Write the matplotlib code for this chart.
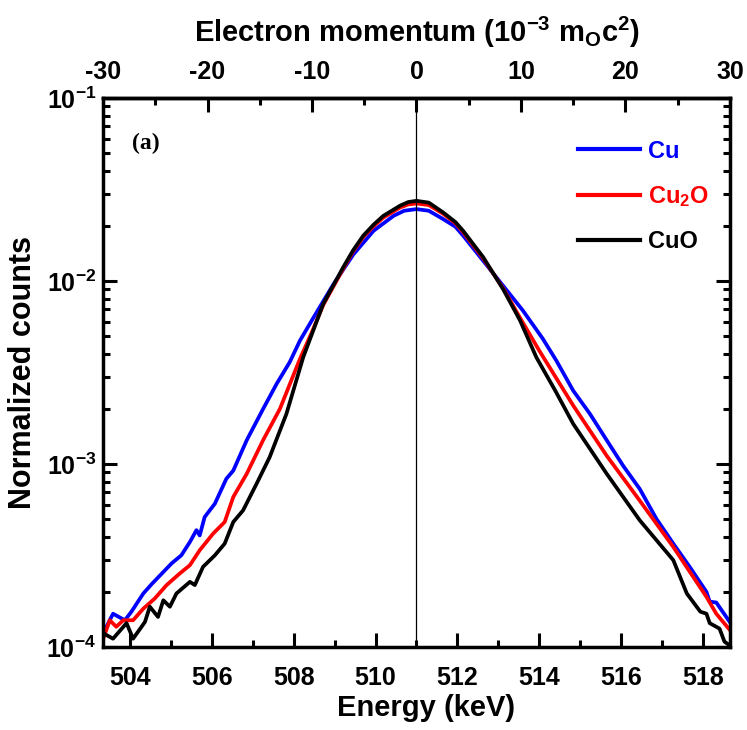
import matplotlib
matplotlib.use('Agg')
import matplotlib.pyplot as plt
from matplotlib.ticker import (MultipleLocator, FixedLocator, LogLocator, NullFormatter,
                               LogFormatterMathtext)

# Doppler broadening spectra (normalized counts vs. gamma energy)
energy_cu = [503.34, 503.58, 503.87, 504.03, 504.32, 504.52, 504.81, 505.01, 505.25,
             505.46, 505.62, 505.70, 505.82, 506.07, 506.35, 506.52, 506.85, 507.25,
             507.58, 507.90, 508.15, 508.48, 508.97, 509.46, 509.95, 510.44, 510.70,
             511.00, 511.30, 511.65, 511.95, 512.14, 512.63, 513.12, 513.60, 514.09,
             514.42, 514.83, 515.24, 515.65, 516.05, 516.46, 516.87, 517.28, 517.68,
             518.09, 518.17, 518.33, 518.66]
counts_cu = [1.19e-4, 1.52e-4, 1.40e-4, 1.56e-4, 1.96e-4, 2.20e-4, 2.57e-4, 2.86e-4, 3.17e-4,
             3.75e-4, 4.35e-4, 4.07e-4, 5.13e-4, 6.07e-4, 8.30e-4, 9.20e-4, 1.35e-3, 2.00e-3,
             2.74e-3, 3.60e-3, 4.72e-3, 6.30e-3, 9.60e-3, 1.40e-2, 1.88e-2, 2.27e-2, 2.42e-2,
             2.47e-2, 2.42e-2, 2.18e-2, 1.98e-2, 1.77e-2, 1.29e-2, 9.40e-3, 6.90e-3, 4.83e-3,
             3.67e-3, 2.52e-3, 1.88e-3, 1.35e-3, 9.80e-4, 7.30e-4, 5.00e-4, 3.67e-4, 2.74e-4,
             2.00e-4, 1.77e-4, 1.75e-4, 1.37e-4]

energy_cu2o = [503.34, 503.50, 503.66, 503.83, 504.07, 504.32, 504.60, 504.89, 505.21,
               505.46, 505.70, 506.03, 506.31, 506.52, 506.85, 507.25, 507.66, 508.15,
               508.45, 508.72, 509.21, 509.45, 509.70, 509.95, 510.19, 510.60, 510.80,
               511.00, 511.30, 511.65, 511.95, 512.14, 512.63, 513.12, 513.53, 514.00,
               514.83, 515.65, 516.46, 517.28, 518.09, 518.33, 518.66]
counts_cu2o = [1.11e-4, 1.40e-4, 1.29e-4, 1.40e-4, 1.40e-4, 1.62e-4, 1.84e-4, 2.18e-4, 2.52e-4,
               2.80e-4, 3.38e-4, 4.17e-4, 4.82e-4, 6.60e-4, 8.85e-4, 1.35e-3, 2.00e-3, 3.75e-3,
               5.30e-3, 7.40e-3, 1.17e-2, 1.45e-2, 1.74e-2, 1.99e-2, 2.22e-2, 2.52e-2, 2.62e-2,
               2.65e-2, 2.60e-2, 2.33e-2, 2.07e-2, 1.85e-2, 1.33e-2, 9.10e-3, 6.30e-3, 4.17e-3,
               2.09e-3, 1.11e-3, 6.30e-4, 3.52e-4, 1.88e-4, 1.52e-4, 1.24e-4]

energy_cuo = [503.34, 503.58, 503.91, 504.07, 504.36, 504.48, 504.68, 504.81, 504.97,
              505.13, 505.46, 505.58, 505.78, 506.07, 506.31, 506.52, 506.76, 507.09,
              507.41, 507.82, 508.23, 508.72, 509.21, 509.45, 509.70, 509.95, 510.19,
              510.60, 510.80, 511.00, 511.30, 511.65, 511.95, 512.14, 512.63, 513.12,
              513.53, 513.93, 514.40, 514.83, 515.65, 516.46, 517.28, 517.61, 517.94,
              518.09, 518.17, 518.41, 518.53, 518.66]
counts_cuo = [1.19e-4, 1.11e-4, 1.35e-4, 1.11e-4, 1.37e-4, 1.66e-4, 1.46e-4, 1.80e-4, 1.66e-4,
              1.96e-4, 2.27e-4, 2.18e-4, 2.74e-4, 3.17e-4, 3.67e-4, 4.82e-4, 5.58e-4, 7.80e-4,
              1.09e-3, 1.88e-3, 3.83e-3, 7.50e-3, 1.19e-2, 1.47e-2, 1.77e-2, 2.03e-2, 2.27e-2,
              2.58e-2, 2.70e-2, 2.74e-2, 2.68e-2, 2.37e-2, 2.10e-2, 1.88e-2, 1.35e-2, 9.00e-3,
              6.10e-3, 3.83e-3, 2.50e-3, 1.66e-3, 8.85e-4, 4.92e-4, 2.98e-4, 1.96e-4, 1.56e-4,
              1.52e-4, 1.35e-4, 1.26e-4, 1.07e-4, 1.02e-4]

momentum_ticks = [-30, -20, -10, 0, 10, 20, 30]

E0 = 511.0
KEV_PER_UNIT = 0.2555  # 10^-3 m0c^2 in keV

plt.rcParams['font.family'] = 'Liberation Sans'
plt.rcParams['font.weight'] = 'bold'
plt.rcParams['axes.unicode_minus'] = False
plt.rcParams['mathtext.fontset'] = 'custom'
plt.rcParams['mathtext.rm'] = 'Liberation Sans:bold'
plt.rcParams['mathtext.it'] = 'Liberation Sans:bold'
plt.rcParams['mathtext.bf'] = 'Liberation Sans:bold'
plt.rcParams['mathtext.default'] = 'rm'

fig = plt.figure(figsize=(7.47, 7.30), dpi=100)
ax = fig.add_axes([0.1379, 0.1137, 0.8393, 0.7521])

lw = 2.7
ax.plot(energy_cu, counts_cu, color='blue', lw=lw, label='Cu')
ax.plot(energy_cu2o, counts_cu2o, color='red', lw=lw, label='Cu$_2$O')
ax.plot(energy_cuo, counts_cuo, color='black', lw=lw, label='CuO')
ax.axvline(E0, color='black', lw=0.9)

ax.set_yscale('log')
ax.set_xlim(E0 - 30 * KEV_PER_UNIT, E0 + 30 * KEV_PER_UNIT)
ax.set_ylim(1e-4, 1e-1)

ax.xaxis.set_major_locator(MultipleLocator(2))
ax.xaxis.set_minor_locator(MultipleLocator(1))
ax.yaxis.set_major_locator(LogLocator(base=10))
ax.yaxis.set_minor_locator(LogLocator(base=10, subs=range(2, 10)))
ax.yaxis.set_minor_formatter(NullFormatter())
ax.yaxis.set_major_formatter(LogFormatterMathtext())

for s in ax.spines.values():
    s.set_linewidth(2.5)
ax.tick_params(which='both', direction='in', right=True, width=2.2, labelsize=18)
ax.tick_params(which='major', length=10)
ax.tick_params(which='minor', length=5)
ax.tick_params(axis='x', pad=14)
ax.tick_params(axis='y', pad=5)

# momentum scale on top, 0 at the 511 keV annihilation line
top = ax.secondary_xaxis('top', functions=(lambda e: (e - E0) / KEV_PER_UNIT,
                                           lambda p: E0 + p * KEV_PER_UNIT))
top.xaxis.set_major_locator(FixedLocator(momentum_ticks))
top.xaxis.set_minor_locator(FixedLocator([-25, -15, -5, 5, 15, 25]))
top.tick_params(which='both', direction='in', width=2.2, labelsize=18, pad=10)
top.tick_params(which='major', length=10)
top.tick_params(which='minor', length=5)
top.spines['top'].set_linewidth(2.5)
top.set_xlabel('Electron momentum (10$^{-3}$ m$_{\\mathrm{O}}$c$^{2}$)', fontsize=21,
               fontweight='bold', labelpad=13)

ax.set_xlabel('Energy (keV)', fontsize=21, fontweight='bold', labelpad=4)
ax.xaxis.set_label_coords(0.515, -0.085)
ax.set_ylabel('Normalized counts', fontsize=22, fontweight='bold', labelpad=6)

ax.text(0.046, 0.918, '(a)', transform=ax.transAxes, fontsize=17, fontweight='bold',
        family='Liberation Serif', va='center')

leg = ax.legend(loc='upper right', bbox_to_anchor=(1.0, 0.963), frameon=False, fontsize=17,
                handlelength=2.6, handletextpad=0.34, labelspacing=0.9,
                labelcolor='linecolor')
for h in leg.get_lines():
    h.set_linewidth(3.0)

fig.savefig('out.png', dpi=100)
